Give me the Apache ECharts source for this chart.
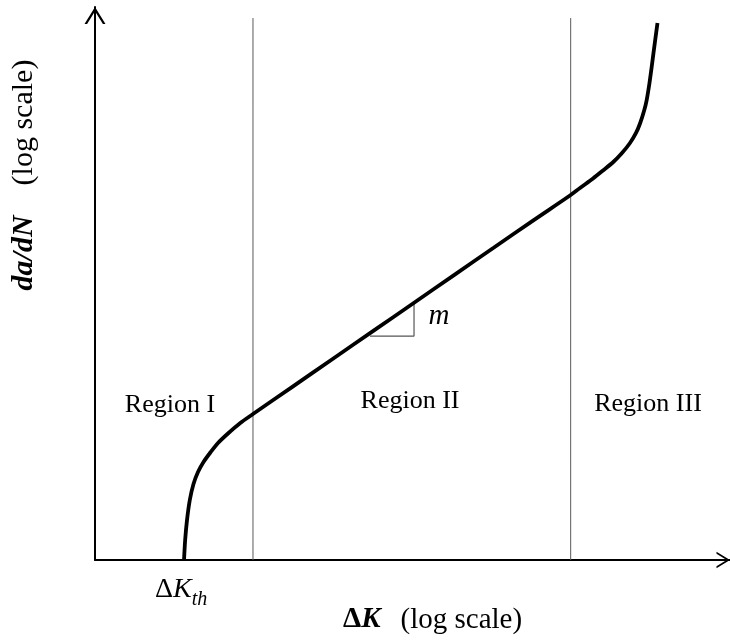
<!DOCTYPE html>
<html>
<head>
<meta charset="utf-8">
<script src="https://cdn.jsdelivr.net/npm/echarts@6/dist/echarts.min.js"></script>
<style>
  html, body { margin: 0; padding: 0; background: #fff; }
  #chart { width: 730px; height: 640px; }
</style>
</head>
<body>
<div id="chart"></div>
<script>
// Schematic fatigue crack growth curve: log(da/dN) against log(ΔK),
// both axes in normalised log units (0 to 100).
const curveDeltaK = [14.02, 14.20, 14.49, 14.93, 15.51, 16.22, 17.09, 18.11, 19.37, 20.94, 22.83, 24.88,
                     31.02, 37.48, 43.94, 50.08, 56.54, 62.83, 68.98, 74.80,
                     76.38, 78.43, 80.00, 81.62, 82.99, 84.25, 85.20, 85.83, 86.46, 86.88, 87.32, 87.67, 88.22, 88.58];
const curveRate    = [0.00, 3.62, 7.23, 10.85, 13.74, 15.91, 17.72, 19.35, 21.16, 22.88, 24.74, 26.40,
                     31.27, 36.40, 41.52, 46.38, 51.52, 56.51, 61.38, 65.91,
                     67.27, 68.99, 70.43, 71.97, 73.60, 75.41, 77.22, 78.93, 81.19, 83.18, 86.26, 89.20, 94.03, 97.11];

// Region boundaries on the ΔK axis and the height of the boundary lines
const boundaryDeltaK = [24.88, 74.91];
const boundaryTop = 98.0;

// Slope triangle under the Paris-law segment
const slopeTriangleK    = [43.3, 50.24, 50.24];
const slopeTriangleRate = [40.5, 40.5, 46.4];

const regionNames = ['Region I', 'Region II', 'Region III'];

const serif = '"Times New Roman", "Liberation Serif", serif';
// open arrow head, drawn as a thin filled chevron (21 wide, 17 long)
const chevron = 'path://M0,17 L10.5,0 L21,17 L18.4,17 L10.5,4.2 L2.6,17 Z';

const chart = echarts.init(document.getElementById('chart'), null, { renderer: 'canvas' });

const series = [];
boundaryDeltaK.forEach(function (k) {
  series.push({
    type: 'line',
    data: [[k, 0], [k, boundaryTop]],
    symbol: 'none',
    silent: true,
    lineStyle: { color: '#5a5a5a', width: 1 },
    z: 1
  });
});
series.push({
  type: 'line',
  data: slopeTriangleK.map(function (k, i) { return [k, slopeTriangleRate[i]]; }),
  symbol: 'none',
  silent: true,
  lineStyle: { color: '#555', width: 1.2 },
  z: 2
});
series.push({
  type: 'line',
  data: curveDeltaK.map(function (k, i) { return [k, curveRate[i]]; }),
  symbol: 'none',
  smooth: 0.3,
  silent: true,
  lineStyle: { color: '#000', width: 3.8, cap: 'butt' },
  z: 3
});

chart.setOption({
  animation: false,
  backgroundColor: '#fff',
  grid: { left: 95, right: 0, top: 7, bottom: 80, containLabel: false },
  xAxis: {
    type: 'value', min: 0, max: 100,
    axisLine: {
      show: true, onZero: false,
      lineStyle: { color: '#000', width: 2 },
      symbol: ['none', chevron], symbolSize: [17, 13.5], symbolOffset: [0, -6.75]
    },
    axisTick: { show: false }, axisLabel: { show: false }, splitLine: { show: false }
  },
  yAxis: {
    type: 'value', min: 0, max: 100,
    axisLine: {
      show: true, onZero: false,
      lineStyle: { color: '#000', width: 2 },
      symbol: ['none', chevron], symbolSize: [21, 17], symbolOffset: [0, -8.5]
    },
    axisTick: { show: false }, axisLabel: { show: false }, splitLine: { show: false }
  },
  series: series,
  graphic: [
    { type: 'text', x: 170, y: 405, style: { text: regionNames[0], font: '26px ' + serif, fill: '#000', align: 'center', verticalAlign: 'middle' } },
    { type: 'text', x: 410, y: 401, style: { text: regionNames[1], font: '26px ' + serif, fill: '#000', align: 'center', verticalAlign: 'middle' } },
    { type: 'text', x: 648, y: 404, style: { text: regionNames[2], font: '26px ' + serif, fill: '#000', align: 'center', verticalAlign: 'middle' } },
    { type: 'text', x: 439, y: 316, style: { text: 'm', font: 'italic 29px ' + serif, fill: '#000', align: 'center', verticalAlign: 'middle' } },
    {
      type: 'text', x: 155, y: 593,
      style: {
        text: '{d|Δ}{k|K}{s|th}',
        align: 'left', verticalAlign: 'middle', fill: '#000',
        rich: {
          d: { font: '28px ' + serif, verticalAlign: 'bottom', padding: [0, 0, 6, 0] },
          k: { font: 'italic 28px ' + serif, verticalAlign: 'bottom', padding: [0, 0, 6, 0] },
          s: { font: 'italic 20px ' + serif, verticalAlign: 'bottom' }
        }
      }
    },
    {
      type: 'text', x: 343, y: 620,
      style: {
        text: '{d|Δ}{b|K}{n|(log scale)}',
        align: 'left', verticalAlign: 'middle', fill: '#000',
        rich: {
          d: { font: 'bold 29px ' + serif },
          b: { font: 'bold italic 29px ' + serif },
          n: { font: '29px ' + serif, padding: [0, 0, 0, 20] }
        }
      }
    },
    {
      type: 'text', x: 24, y: 175, rotation: Math.PI / 2,
      style: {
        text: '{b|da/dN}{n|    (log scale)}',
        align: 'center', verticalAlign: 'middle', fill: '#000',
        rich: {
          b: { font: 'bold italic 30px ' + serif },
          n: { font: '30px ' + serif }
        }
      }
    }
  ]
});
</script>
</body>
</html>
